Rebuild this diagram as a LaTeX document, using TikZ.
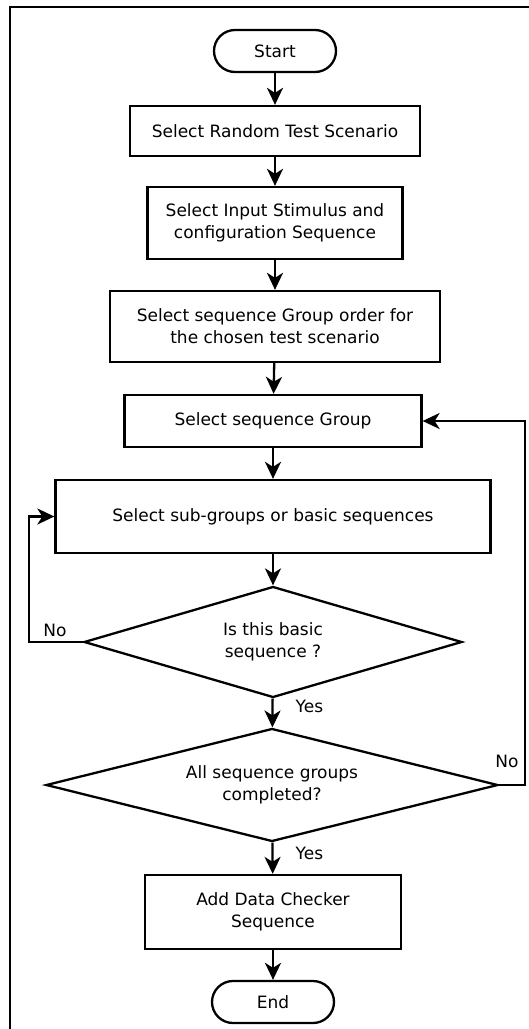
\documentclass[tikz,border=0pt]{standalone}
\usepackage{fontspec}
\setmainfont{DejaVu Sans}
\usetikzlibrary{shapes.geometric,arrows.meta}

\begin{document}
\begin{tikzpicture}[x=1pt, y=-1pt,
  every node/.style={font=\fontsize{17}{22}\selectfont, align=center},
  procbox/.style={draw, line width=2.3pt, rectangle, inner sep=0pt},
  termbox/.style={draw, line width=2.3pt, rectangle, rounded corners=21pt,
    minimum width=122pt, minimum height=42pt, inner sep=0pt},
  decide/.style={draw, line width=2.3pt, diamond, inner sep=0pt},
  flow/.style={line width=2.3pt, -{Stealth[length=17pt, width=16pt, inset=5pt]}},
  lbl/.style={inner sep=2pt}]
\useasboundingbox (0,0) rectangle (529,1029);
\draw[line width=2.8pt] (10,1035) -- (10,7) -- (535,7);
\coordinate (lft) at (29,0);
\coordinate (rgt) at (525,0);
\node[termbox] (start) at (275,51) {Start};
\node[procbox, minimum width=290pt, minimum height=50pt] (scen) at (275,131) {Select Random Test Scenario};
\node[procbox, minimum width=255pt, minimum height=72pt] (stim) at (275,223) {Select Input Stimulus and\\configuration Sequence};
\node[procbox, minimum width=330pt, minimum height=71pt] (order) at (275,326.5) {Select sequence Group order for\\the chosen test scenario};
\node[procbox, minimum width=297pt, minimum height=52pt] (grp) at (273,421) {Select sequence Group};
\node[procbox, minimum width=435pt, minimum height=73pt] (sub) at (273,516.5) {Select sub-groups or basic sequences};
\node[decide, aspect=3.4, minimum width=378pt, minimum height=111pt] (isbasic) at (273,642) {Is this basic\\sequence ?};
\node[decide, aspect=4, minimum width=452pt, minimum height=113pt] (alldone) at (272,785) {All sequence groups\\completed?};
\node[procbox, minimum width=256pt, minimum height=74pt] (check) at (273,912) {Add Data Checker\\Sequence};
\node[termbox] (end) at (273,1002) {End};
% main flow
\draw[flow] (start) -- (scen);
\draw[flow] (scen) -- (stim);
\draw[flow] (stim) -- (order);
\draw[flow] (order) -- (grp);
\draw[flow] (grp) -- (sub);
\draw[flow] (sub) -- (isbasic);
\draw[flow] (isbasic) -- node[lbl, right=20pt, pos=0.27] {Yes} (alldone);
\draw[flow] (alldone) -- node[lbl, right=20pt, pos=0.36] {Yes} (check);
\draw[flow] (check) -- (end);
% loops back
\draw[flow] (isbasic.west) -| node[lbl, above=2pt, pos=0.26] {No} (lft |- sub.west) -- (sub.west);
\draw[flow] (alldone.east) -| node[lbl, above=14pt, pos=0.15] {No} (rgt |- grp.east) -- (grp.east);
\end{tikzpicture}
\end{document}
